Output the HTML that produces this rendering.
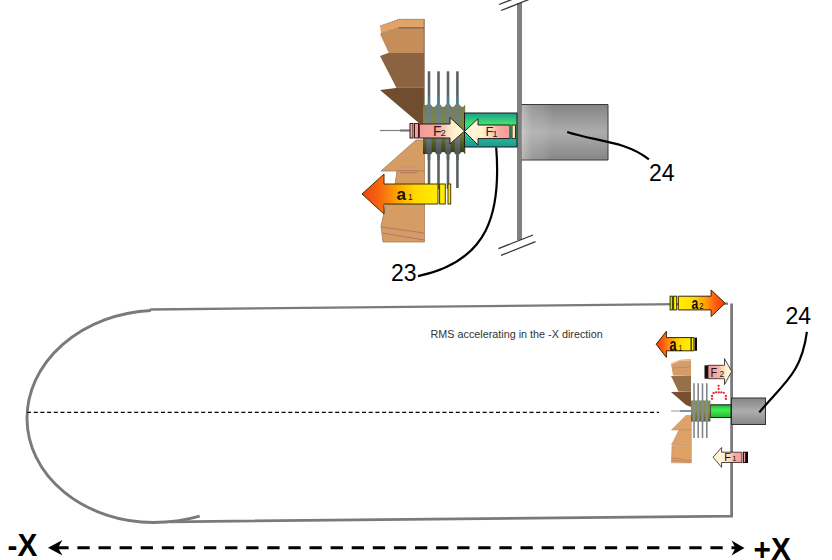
<!DOCTYPE html>
<html><head><meta charset="utf-8">
<style>
html,body{margin:0;padding:0;background:#fff;}
body{width:832px;height:560px;overflow:hidden;}
svg{display:block;}
text{font-family:"Liberation Sans",sans-serif;}
</style></head>
<body>
<svg width="832" height="560" viewBox="0 0 832 560">
<defs>
  <linearGradient id="gAL" x1="0" y1="0" x2="1" y2="0">
    <stop offset="0" stop-color="#ec4410"/><stop offset="0.25" stop-color="#f86a10"/>
    <stop offset="0.45" stop-color="#ffa000"/><stop offset="0.7" stop-color="#ffd800"/><stop offset="1" stop-color="#ffee00"/>
  </linearGradient>
  <linearGradient id="gAR" x1="1" y1="0" x2="0" y2="0">
    <stop offset="0" stop-color="#e4380f"/><stop offset="0.3" stop-color="#f6760c"/>
    <stop offset="0.65" stop-color="#ffc600"/><stop offset="1" stop-color="#ffee00"/>
  </linearGradient>
  <linearGradient id="gAR2" x1="0" y1="0" x2="1" y2="0">
    <stop offset="0" stop-color="#ffee00"/><stop offset="0.3" stop-color="#ffe000"/>
    <stop offset="0.6" stop-color="#ff9a08"/><stop offset="0.8" stop-color="#fc5a10"/><stop offset="1" stop-color="#ee4010"/>
  </linearGradient>
  <linearGradient id="gAL2" x1="1" y1="0" x2="0" y2="0">
    <stop offset="0" stop-color="#ffee00"/><stop offset="0.3" stop-color="#ffe000"/>
    <stop offset="0.6" stop-color="#ff9a08"/><stop offset="0.8" stop-color="#fc5a10"/><stop offset="1" stop-color="#ee4010"/>
  </linearGradient>
  <linearGradient id="gFR" x1="0" y1="0" x2="1" y2="0">
    <stop offset="0" stop-color="#f49a96"/><stop offset="0.42" stop-color="#f6aca2"/>
    <stop offset="0.62" stop-color="#fcdcbc"/><stop offset="0.78" stop-color="#fff3d0"/><stop offset="1" stop-color="#fff8da"/>
  </linearGradient>
  <linearGradient id="gFL" x1="1" y1="0" x2="0" y2="0">
    <stop offset="0" stop-color="#f49a96"/><stop offset="0.25" stop-color="#f6aca2"/>
    <stop offset="0.45" stop-color="#fcdcbc"/><stop offset="0.62" stop-color="#fff3d0"/><stop offset="1" stop-color="#fff8da"/>
  </linearGradient>
  <linearGradient id="gCyl" x1="0" y1="0" x2="0" y2="1">
    <stop offset="0" stop-color="#858585"/><stop offset="0.5" stop-color="#adadad"/>
    <stop offset="1" stop-color="#868686"/>
  </linearGradient>
  <linearGradient id="gCylL" x1="0" y1="0" x2="1" y2="0">
    <stop offset="0" stop-color="#e8dede" stop-opacity="0.55"/><stop offset="0.35" stop-color="#d0c8c8" stop-opacity="0.25"/>
    <stop offset="1" stop-color="#ffffff" stop-opacity="0"/>
  </linearGradient>
  <linearGradient id="gGreen" x1="0" y1="0" x2="0" y2="1">
    <stop offset="0" stop-color="#1c9c8c"/><stop offset="0.3" stop-color="#3ee070"/>
    <stop offset="0.65" stop-color="#2cc09c"/><stop offset="1" stop-color="#1a9890"/>
  </linearGradient>
  <linearGradient id="gGreen2" x1="0" y1="0" x2="0" y2="1">
    <stop offset="0" stop-color="#22b040"/><stop offset="0.4" stop-color="#44f050"/>
    <stop offset="1" stop-color="#22b838"/>
  </linearGradient>
  <linearGradient id="gHub" x1="0" y1="0" x2="0" y2="1">
    <stop offset="0" stop-color="#7a8450"/><stop offset="0.45" stop-color="#7f8e3c"/>
    <stop offset="1" stop-color="#525a1e"/>
  </linearGradient>
  <linearGradient id="gHubShade" x1="0" y1="0" x2="0" y2="1">
    <stop offset="0" stop-color="#000" stop-opacity="0.05"/><stop offset="0.6" stop-color="#000" stop-opacity="0"/>
    <stop offset="1" stop-color="#000" stop-opacity="0.35"/>
  </linearGradient>
</defs>

<!-- ================= TOP ASSEMBLY ================= -->
<!-- wall -->
<rect x="517" y="3" width="5" height="237" fill="#808080"/>
<g stroke="#333" stroke-width="1.3" fill="none">
  <line x1="499" y1="4.5" x2="512" y2="-0.5"/>
  <line x1="501" y1="10.5" x2="529" y2="-0.5"/>
  <line x1="498.5" y1="248.6" x2="533" y2="235"/>
  <line x1="501" y1="255.4" x2="535.5" y2="241.7"/>
</g>

<!-- cylinder 24 -->
<rect x="521.5" y="104.5" width="86.5" height="55.5" fill="url(#gCyl)"/>
<path d="M521.5,104.5 H608 V160 H521.5" fill="none" stroke="#3a3a3a" stroke-width="1"/>
<rect x="522" y="105" width="30" height="54.5" fill="url(#gCylL)"/>

<!-- upper blades -->
<polygon points="380,34 399,27.5 424,27.5 424,53.5 389,53.5" fill="#c58d5a"/>
<polygon points="380,26 399,19 424,19 424,28 399,28 381,33.5" fill="#e2a466"/>
<path d="M380,26 L399,19.3 L424,19.3" fill="none" stroke="#8a7868" stroke-width="0.9" stroke-dasharray="1.5 1"/>
<path d="M381,33.5 L399,27.5" fill="none" stroke="#8a7060" stroke-width="0.9" stroke-dasharray="1.5 1"/>
<line x1="399" y1="27.8" x2="424" y2="27.8" stroke="#7c6858" stroke-width="1.4"/>
<polygon points="380,56 388,53 424,53 424,88 396.5,88" fill="#8b6340"/>
<line x1="396" y1="87.3" x2="424" y2="87.3" stroke="#a07a58" stroke-width="1"/>
<polygon points="380,90 396,88 424,88 424,124 420,124" fill="#6f4d2e"/>
<line x1="424.2" y1="19" x2="424.2" y2="124" stroke="#7a6450" stroke-width="1"/>

<!-- lower blades -->
<g fill="#d59c64" stroke="#a87c5c" stroke-width="0.8">
  <polygon points="416,140 424.5,140 424.5,171 381,171"/>
  <polygon points="397,171 424.5,171 424.5,205 392,205"/>
  <polygon points="386,204 424.5,204 424.5,242 383,242 381,226"/>
</g>
<g stroke="#b07870" stroke-width="1" fill="none">
  <line x1="400" y1="167" x2="417" y2="167" stroke="#cc9080"/>
  <line x1="400" y1="172.8" x2="417" y2="172.8" stroke="#b87068"/>
  <line x1="381" y1="227" x2="424" y2="233"/>
  <line x1="382" y1="233" x2="424" y2="240"/>
</g>

<!-- fins -->
<g stroke="#5c6164" stroke-width="2.6">
  <line x1="429" y1="71.3" x2="429" y2="189"/>
  <line x1="438.5" y1="71.3" x2="438.5" y2="189"/>
  <line x1="448" y1="71.3" x2="448" y2="189"/>
  <line x1="457.4" y1="71.3" x2="457.4" y2="188"/>
</g>
<g stroke="#2a9c9c" stroke-width="2.2" opacity="0.75">
  <line x1="429" y1="97" x2="429" y2="105"/>
  <line x1="438.5" y1="97" x2="438.5" y2="105"/>
  <line x1="448" y1="97" x2="448" y2="105"/>
  <line x1="457.4" y1="97" x2="457.4" y2="105"/>
</g>
<!-- hub -->
<rect x="423" y="105" width="42.2" height="49" fill="url(#gHub)"/>
<g stroke="#74828a" stroke-width="5.4" stroke-linecap="round" opacity="0.92">
  <line x1="429" y1="106.5" x2="429" y2="152.5"/>
  <line x1="438.5" y1="106.5" x2="438.5" y2="152.5"/>
  <line x1="448" y1="106.5" x2="448" y2="152.5"/>
  <line x1="457.4" y1="106.5" x2="457.4" y2="152.5"/>
</g>
<rect x="423" y="105" width="42.2" height="49" fill="url(#gHubShade)"/>
<g fill="#fff">
  <circle cx="433.75" cy="104.6" r="2.4"/><circle cx="443.25" cy="104.6" r="2.4"/>
  <circle cx="452.7" cy="104.6" r="2.4"/><circle cx="462.3" cy="104.6" r="2.4"/>
  <circle cx="433.75" cy="154.4" r="2.4"/><circle cx="443.25" cy="154.4" r="2.4"/>
  <circle cx="452.7" cy="154.4" r="2.4"/><circle cx="462.3" cy="154.4" r="2.4"/>
</g>
<g stroke="#5c6164" stroke-width="2.6">
  <line x1="429" y1="153.5" x2="429" y2="160"/>
  <line x1="438.5" y1="153.5" x2="438.5" y2="160"/>
  <line x1="448" y1="153.5" x2="448" y2="160"/>
  <line x1="457.4" y1="153.5" x2="457.4" y2="160"/>
</g>

<!-- green shaft -->
<rect x="464.5" y="113" width="52.5" height="34" fill="url(#gGreen)" stroke="#1a1a1a" stroke-width="1"/>

<!-- thin shaft left -->
<line x1="380" y1="130.5" x2="401" y2="130.5" stroke="#808080" stroke-width="1.2"/>
<line x1="400" y1="130.5" x2="411" y2="130.5" stroke="#707878" stroke-width="2.2"/>

<!-- F2 arrow (top, pointing right) -->
<rect x="410" y="123.5" width="3" height="14.5" fill="#f4a0a0" stroke="#3a1a1a" stroke-width="1"/>
<rect x="414.5" y="123.5" width="4" height="14.5" fill="#f4a0a0" stroke="#3a1a1a" stroke-width="1"/>
<path d="M419.3,124 L450,124 L450,117.5 L464.6,131 L450,144 L450,138 L419.3,138 Z" fill="url(#gFR)" stroke="#2a1a1a" stroke-width="1"/>
<text x="433" y="135.6" font-size="14" fill="#2a1a1a">F</text>
<text x="440.5" y="135.8" font-size="9.5" fill="#2a1a1a">2</text>

<!-- F1 arrow (top, pointing left) -->
<path d="M510,125 L478,125 L478,118.6 L464.5,131.4 L478,145 L478,138.6 L510,138.6 Z" fill="url(#gFL)" stroke="#2a1a1a" stroke-width="1"/>
<rect x="512" y="125" width="3.5" height="13.6" fill="#f6e4b8" stroke="#3a2a1a" stroke-width="1"/>
<text x="485.5" y="136.4" font-size="13" fill="#2a1a1a">F</text>
<text x="492.5" y="136.6" font-size="9" fill="#2a1a1a">1</text>

<!-- a1 arrow (top, pointing left) -->
<path d="M438,184 L384,184 L384,174 L362,194 L384,214 L384,204 L438,204 Z" fill="url(#gAL)" stroke="#4a3000" stroke-width="1"/>
<rect x="439.6" y="184" width="5.7" height="20" fill="#ffee00" stroke="#4a3a00" stroke-width="1"/>
<rect x="448" y="184" width="2.7" height="20" fill="#ffee00" stroke="#4a3a00" stroke-width="1"/>
<text x="396.5" y="200" font-size="17" font-weight="bold" fill="#1a1200">a</text>
<text x="408" y="200.3" font-size="8.5" fill="#1a1200">1</text>

<!-- leaders -->
<path d="M567.2,132 C594.7,141.3 624.8,140.5 648.9,159.4" stroke="#000" stroke-width="2.2" fill="none"/>
<path d="M496.2,147.5 C501.2,211.5 489.7,261 418,276.2" stroke="#000" stroke-width="2.2" fill="none"/>
<text x="648.9" y="180.6" font-size="23" fill="#000">24</text>
<text x="390.9" y="281" font-size="23" fill="#000">23</text>

<!-- ================= BOTTOM ================= -->
<!-- capsule -->
<path d="M150.9,310.5 A129.45,106.05 -2.389 0 0 153.3,522.5 Q178,522.4 199.7,516.2" stroke="#7a7a7a" stroke-width="2.9" fill="none"/>
<path d="M150.1,309.5 L728,303.6" stroke="#7a7a7a" stroke-width="2.3" fill="none"/>
<path d="M731.6,303.5 L731.6,516.1 L170,521.8" stroke="#7a7a7a" stroke-width="2.8" fill="none" stroke-linejoin="miter"/>
<!-- centerline -->
<line x1="27" y1="412.4" x2="659" y2="412.4" stroke="#000" stroke-width="1.1" stroke-dasharray="4 2.7"/>

<text x="430.5" y="338" font-size="10.8" fill="#333">RMS accelerating in the -X direction</text>

<!-- small assembly -->
<rect x="731.5" y="398" width="34" height="26.5" fill="url(#gCyl)" stroke="#333" stroke-width="1"/>
<rect x="710.5" y="404.8" width="20.5" height="12.7" fill="url(#gGreen2)" stroke="#1a1a1a" stroke-width="1"/>
<!-- small blades -->
<polygon points="671,364 680,360 691,359 691,375.5 673,375.5" fill="#d49c68"/>
<path d="M671,364 L680,360.5 L691,360" fill="none" stroke="#e8c098" stroke-width="1.6"/>
<line x1="673" y1="368" x2="691" y2="367" stroke="#c08858" stroke-width="0.8"/>
<polygon points="671,376 691,375.5 691,391.5 678.5,391.5" fill="#957048"/>
<polygon points="671,392 691,391.5 691,407 686,405" fill="#765030"/>
<g fill="#dfa266" stroke="#c08c68" stroke-width="0.6">
  <polygon points="686,415.5 691.3,415.5 691.3,430 671.5,430"/>
  <polygon points="679,430 691.3,430 691.3,447 671.5,445"/>
  <polygon points="672,446 691.3,447.5 691.3,462.8 671.5,462.8"/>
</g>
<g stroke="#b87c66" stroke-width="0.8" fill="none">
  <line x1="671.5" y1="457.8" x2="691.3" y2="460.7"/>
  <line x1="671.5" y1="460" x2="691.3" y2="462.6"/>
</g>
<line x1="671" y1="411" x2="680" y2="411" stroke="#999" stroke-width="1"/>
<line x1="680" y1="411" x2="691" y2="411" stroke="#707070" stroke-width="1.6"/>
<g stroke="#80868a" stroke-width="1.6">
  <line x1="694" y1="383.3" x2="694" y2="438"/>
  <line x1="698.2" y1="383.3" x2="698.2" y2="438"/>
  <line x1="702.5" y1="383.3" x2="702.5" y2="438"/>
  <line x1="706.8" y1="383.3" x2="706.8" y2="438"/>
</g>
<rect x="691" y="400.5" width="19.5" height="21" fill="url(#gHub)" opacity="0.95"/>
<g stroke="#828c92" stroke-width="2.6">
  <line x1="694" y1="400.5" x2="694" y2="421.5"/>
  <line x1="698.2" y1="400.5" x2="698.2" y2="421.5"/>
  <line x1="702.5" y1="400.5" x2="702.5" y2="421.5"/>
  <line x1="706.8" y1="400.5" x2="706.8" y2="421.5"/>
</g>

<!-- red dots -->
<g fill="#e62828">
  <circle cx="718.6" cy="385.8" r="1.15"/><circle cx="718.6" cy="388.9" r="1.15"/>
  <circle cx="713.6" cy="393" r="1.15"/><circle cx="716.2" cy="392.4" r="1.15"/>
  <circle cx="718.8" cy="392.3" r="1.15"/><circle cx="721.3" cy="392.4" r="1.15"/>
  <circle cx="723.8" cy="392.8" r="1.15"/>
  <circle cx="712" cy="396" r="1.15"/><circle cx="712" cy="398.8" r="1.15"/>
  <circle cx="725.9" cy="396" r="1.15"/><circle cx="725.9" cy="399" r="1.15"/>
</g>

<!-- capsule right wall over assembly -->
<!-- a2 arrow -->
<rect x="670.1" y="296.2" width="2.3" height="13.7" fill="#e8ee10" stroke="#3a3000" stroke-width="1"/>
<rect x="673.6" y="296.2" width="3.1" height="13.7" fill="#ffee00" stroke="#3a3000" stroke-width="1"/>
<path d="M678.3,296.2 L711.1,296.2 L711.1,290 L725.2,303.2 L711.1,316.5 L711.1,309.9 L678.3,309.9 Z" fill="url(#gAR2)" stroke="#3a2200" stroke-width="1"/>
<text transform="translate(691.6,309) scale(0.75,1)" font-size="16" font-weight="bold" fill="#100a00">a</text>
<text transform="translate(699.2,309.2) scale(0.85,1)" font-size="9" fill="#100a00">2</text>

<!-- a1 small -->
<path d="M691.1,337.6 L666.4,337.6 L666.4,331.3 L656.2,344.2 L666.4,357.4 L666.4,350.8 L691.1,350.8 Z" fill="url(#gAL2)" stroke="#3a2200" stroke-width="1"/>
<rect x="691.3" y="337.6" width="2.6" height="13.2" fill="#ffee00" stroke="#2a2000" stroke-width="0.9"/>
<rect x="694.6" y="337.6" width="2.4" height="13.2" fill="#0a0a00"/>
<text transform="translate(669.6,350.8) scale(0.72,1)" font-size="17.5" font-weight="bold" fill="#100a00">a</text>
<text transform="translate(678.4,350.9) scale(0.8,1)" font-size="8.5" fill="#100a00">1</text>

<!-- F2 small -->
<rect x="704.5" y="365.3" width="3.5" height="13.4" fill="#111"/>
<path d="M708,365.3 L724.5,365.3 L724.5,358.6 L731.7,371.5 L724.5,384.5 L724.5,378.7 L708,378.7 Z" fill="url(#gFR)" stroke="#2a1a1a" stroke-width="0.8"/>
<text transform="translate(710.5,376.5) scale(0.8,1)" font-size="13.5" fill="#2a1010">F</text>
<text transform="translate(719.4,376.6) scale(0.9,1)" font-size="9.5" fill="#2a1010">2</text>

<!-- F1 small -->
<path d="M741.9,452.2 L721.6,452.2 L721.6,447.5 L713.1,457.2 L721.6,467.3 L721.6,462.5 L741.9,462.5 Z" fill="url(#gFL)" stroke="#2a1a1a" stroke-width="0.8"/>
<rect x="743.4" y="452.2" width="4.1" height="10.3" fill="#f0a0a0" stroke="#1a0000" stroke-width="1"/>
<rect x="745.2" y="452.2" width="2.3" height="10.3" fill="#1a0000"/>
<text x="724.3" y="461.2" font-size="10.8" fill="#1a1010">F</text>
<text x="732.3" y="461.3" font-size="7.5" fill="#1a1010">1</text>

<!-- leader 24 bottom -->
<path d="M759.3,412.4 C784.4,382.3 801.3,373.4 806.9,331.8" stroke="#000" stroke-width="2.2" fill="none"/>
<text x="785.4" y="324.1" font-size="23" fill="#000">24</text>

<!-- axis -->
<line x1="56.3" y1="547.8" x2="736" y2="547.8" stroke="#000" stroke-width="3" stroke-dasharray="12.3 8.8"/>
<path d="M48,547.7 L62.5,540 L58,547.7 L62.5,555.4 Z" fill="#000"/>
<path d="M744.5,548 L731.5,540.5 L735.5,548 L731.5,555.5 Z" fill="#000"/>
<text transform="translate(7.6,555.9) scale(0.96,1)" font-size="31" font-weight="bold" fill="#000">-X</text>
<text transform="translate(753.6,560.2) scale(0.96,1)" font-size="31" font-weight="bold" fill="#000">+X</text>
</svg>
</body></html>
